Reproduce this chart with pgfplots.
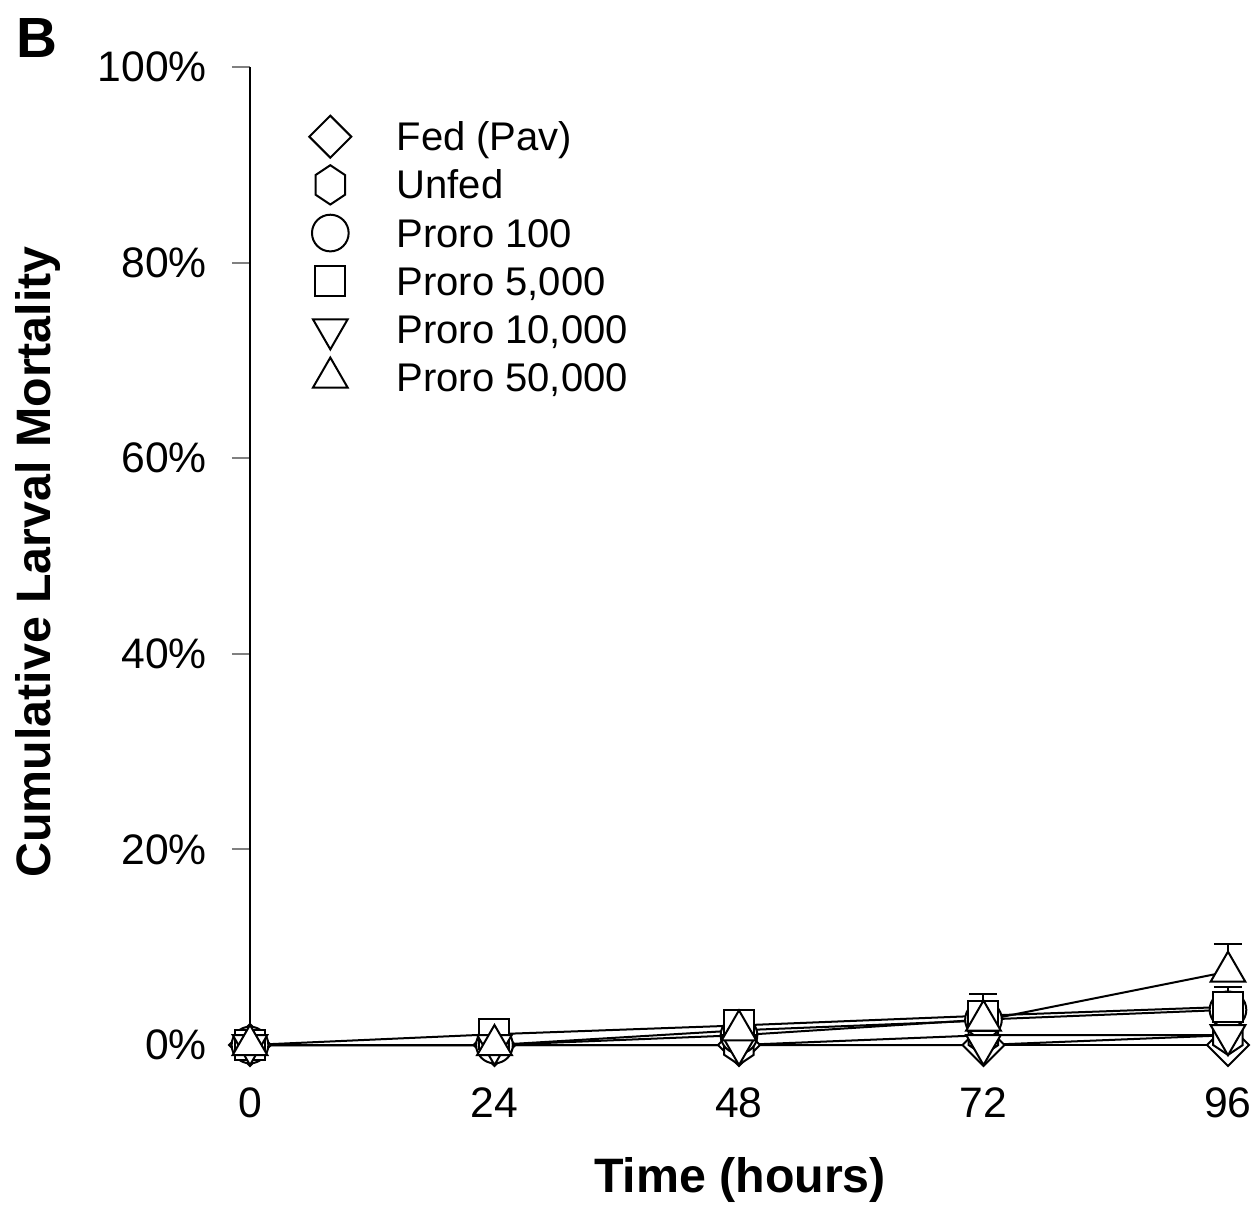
\documentclass[border=0pt]{standalone}
\usepackage{fontspec}
\setmainfont{Liberation Sans}
\usepackage{pgfplots}
\pgfplotsset{compat=1.18}
\pgfdeclareplotmark{hexagon}{%
 \pgfpathmoveto{\pgfqpoint{0pt}{\pgfplotmarksize}}%
 \pgfpathlineto{\pgfqpoint{0.75\pgfplotmarksize}{0.5\pgfplotmarksize}}%
 \pgfpathlineto{\pgfqpoint{0.75\pgfplotmarksize}{-0.5\pgfplotmarksize}}%
 \pgfpathlineto{\pgfqpoint{0pt}{-\pgfplotmarksize}}%
 \pgfpathlineto{\pgfqpoint{-0.75\pgfplotmarksize}{-0.5\pgfplotmarksize}}%
 \pgfpathlineto{\pgfqpoint{-0.75\pgfplotmarksize}{0.5\pgfplotmarksize}}%
 \pgfpathclose
 \pgfusepathqfillstroke}
\pgfplotsset{
  mdiam/.style={mark=square*, mark options={rotate=45, mark size=4.45pt, fill=white, draw=black, line width=0.6pt, solid}},
  mhex/.style={mark=hexagon, mark options={mark size=5.9pt, fill=white, draw=black, line width=0.6pt, solid}},
  mcirc/.style={mark=*, mark options={mark size=5.5pt, fill=white, draw=black, line width=0.6pt, solid}},
  msq/.style={mark=square*, mark options={mark size=4.5pt, fill=white, draw=black, line width=0.6pt, solid}},
  mdown/.style={mark=triangle*, mark options={rotate=180, mark size=6pt, fill=white, draw=black, line width=0.6pt, solid}},
  mup/.style={mark=triangle*, mark options={mark size=6pt, fill=white, draw=black, line width=0.6pt, solid}},
}
\begin{document}
\begin{tikzpicture}
\path[use as bounding box] (-75pt,-48.3pt) rectangle (302.4pt,313.5pt);
\begin{axis}[
  at={(0,0)}, anchor=origin,
  scale only axis, width=293.4pt, height=293.4pt,
  xmin=0, xmax=96, ymin=0, ymax=100,
  clip=false,
  axis x line*=bottom, axis y line*=left,
  x axis line style={draw=none},
  y axis line style={line width=0.6pt},
  xtick={0,24,48,72,96},
  ytick={0,20,40,60,80,100},
  yticklabel={\pgfmathprintnumber{\tick}\%},
  tick align=outside,
  x tick style={draw=none},
  y tick style={line width=0.6pt},
  major tick length=5.4pt,
  /pgf/number format/assume math mode=true,
  tick label style={font=\fontsize{12.8}{15}\selectfont},
  x tick label style={yshift=-3.9pt},
  y tick label style={xshift=-4pt},
  xlabel={Time (hours)},
  ylabel={Cumulative Larval Mortality},
  label style={font=\bfseries\fontsize{14.5}{17}\selectfont},
  x label style={at={(axis description cs:0.501,-0.138)}, anchor=center},
  y label style={at={(axis description cs:-0.217,0.494)}, anchor=center},
  error bars/y dir=plus, error bars/y explicit,
  error bars/error bar style={line width=0.6pt, black},
  error bars/error mark options={rotate=90, mark size=4.2pt, line width=0.6pt, black},
  legend style={at={(axis description cs:0.060,0.956)}, anchor=north west, draw=none, fill=none,
     font=\fontsize{12}{14}\selectfont, row sep=-3.55pt, inner sep=0pt,
     nodes={text height=10pt, text depth=4pt}},
  legend image post style={yshift=1.2pt},
  legend cell align=left,
]
\addlegendimage{only marks, black, mdiam}
\addlegendentry{\hspace*{11.6pt}Fed (Pav)}
\addlegendimage{only marks, black, mhex}
\addlegendentry{\hspace*{11.6pt}Unfed}
\addlegendimage{only marks, black, mcirc}
\addlegendentry{\hspace*{11.6pt}Proro 100}
\addlegendimage{only marks, black, msq}
\addlegendentry{\hspace*{11.6pt}Proro 5,000}
\addlegendimage{only marks, black, mdown}
\addlegendentry{\hspace*{11.6pt}Proro 10,000}
\addlegendimage{only marks, black, mup}
\addlegendentry{\hspace*{11.6pt}Proro 50,000}

% Fed (Pav)
\addplot[forget plot, black, line width=0.6pt, mdiam] coordinates {(0,0) +- (0,0) (24,0) +- (0,0) (48,0) +- (0,0) (72,0) +- (0,0) (96,0) +- (0,0)};
% Unfed
\addplot[forget plot, black, line width=0.6pt, mhex] coordinates {(0,0) +- (0,0) (24,0) +- (0,0) (48,0) +- (0,0) (72,1) +- (0,0) (96,1) +- (0,0)};
% Proro 100
\addplot[forget plot, black, line width=0.6pt, mcirc] coordinates {(0,0) +- (0,0) (24,0) +- (0,0) (48,1) +- (0,0) (72,2.6) +- (0,0) (96,3.6) +- (0,0)};
% Proro 5,000
\addplot[forget plot, black, line width=0.6pt, msq] coordinates {(0,0) +- (0,0) (24,1.1) +- (0,0) (48,2) +- (0,0) (72,3) +- (0,2.2) (96,3.9) +- (0,2)};
% Proro 10,000
\addplot[forget plot, black, line width=0.6pt, mdown] coordinates {(0,0) +- (0,0) (24,0) +- (0,0) (48,0) +- (0,0) (72,0) +- (0,0) (96,1) +- (0,0)};
% Proro 50,000
\addplot[forget plot, black, line width=0.6pt, mup] coordinates {(0,0) +- (0,0) (24,0) +- (0,0) (48,1.5) +- (0,0) (72,2.5) +- (0,0) (96,7.5) +- (0,2.8)};

\node[font=\bfseries\fontsize{17}{20}\selectfont] at (axis description cs:-0.218,1.03) {B};
\end{axis}
\end{tikzpicture}
\end{document}
